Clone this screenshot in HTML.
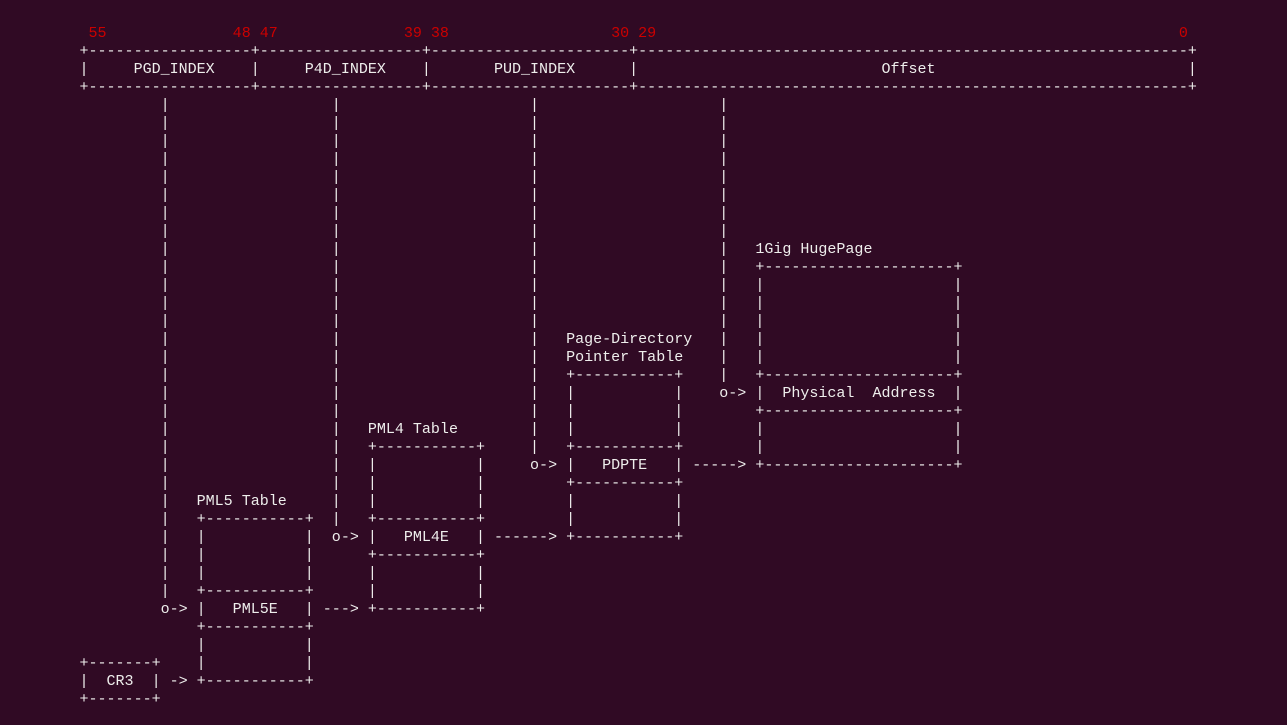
<!DOCTYPE html>
<html><head><meta charset="utf-8"><style>
html,body{margin:0;padding:0;background:#300a24;width:1287px;height:725px;overflow:hidden}
pre{position:absolute;left:79.5px;top:23.5px;margin:0;font-family:"Liberation Mono",monospace;font-size:15.03px;line-height:18px;color:#eeeeec;white-space:pre}
.r{color:#cc0000}
</style></head><body>
<pre><span class="r"> 55              48 47              39 38                  30 29                                                          0</span>
+------------------+------------------+----------------------+-------------------------------------------------------------+
|     PGD_INDEX    |     P4D_INDEX    |       PUD_INDEX      |                           Offset                            |
+------------------+------------------+----------------------+-------------------------------------------------------------+
         |                  |                     |                    |
         |                  |                     |                    |
         |                  |                     |                    |
         |                  |                     |                    |
         |                  |                     |                    |
         |                  |                     |                    |
         |                  |                     |                    |
         |                  |                     |                    |
         |                  |                     |                    |   1Gig HugePage
         |                  |                     |                    |   +---------------------+
         |                  |                     |                    |   |                     |
         |                  |                     |                    |   |                     |
         |                  |                     |                    |   |                     |
         |                  |                     |   Page-Directory   |   |                     |
         |                  |                     |   Pointer Table    |   |                     |
         |                  |                     |   +-----------+    |   +---------------------+
         |                  |                     |   |           |    o-> |  Physical  Address  |
         |                  |                     |   |           |        +---------------------+
         |                  |   PML4 Table        |   |           |        |                     |
         |                  |   +-----------+     |   +-----------+        |                     |
         |                  |   |           |     o-> |   PDPTE   | -----> +---------------------+
         |                  |   |           |         +-----------+
         |   PML5 Table     |   |           |         |           |
         |   +-----------+  |   +-----------+         |           |
         |   |           |  o-> |   PML4E   | ------> +-----------+
         |   |           |      +-----------+
         |   |           |      |           |
         |   +-----------+      |           |
         o-> |   PML5E   | ---> +-----------+
             +-----------+
             |           |
+-------+    |           |
|  CR3  | -> +-----------+
+-------+</pre>
</body></html>
